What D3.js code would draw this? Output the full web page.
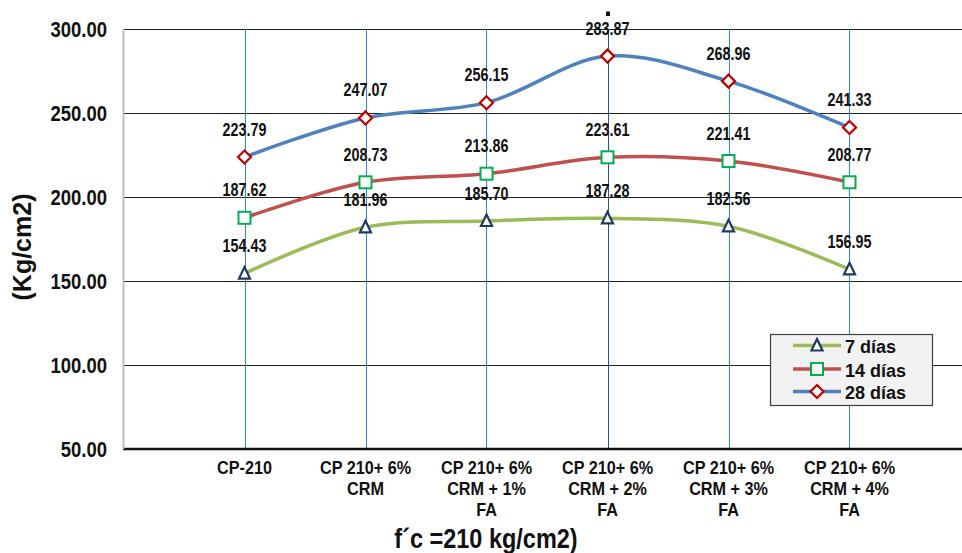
<!DOCTYPE html>
<html><head><meta charset="utf-8">
<script src="https://cdn.jsdelivr.net/npm/d3@7"></script>
<style>body{margin:0;background:#fff}svg{display:block}</style>
</head><body>
<svg id="c" width="962" height="553"></svg>
<script>
const categories = [
  ["CP-210"],
  ["CP 210+ 6%", "CRM"],
  ["CP 210+ 6%", "CRM + 1%", "FA"],
  ["CP 210+ 6%", "CRM + 2%", "FA"],
  ["CP 210+ 6%", "CRM + 3%", "FA"],
  ["CP 210+ 6%", "CRM + 4%", "FA"]
];
const dias7 = [154.43, 181.96, 185.70, 187.28, 182.56, 156.95];
const dias14 = [187.62, 208.73, 213.86, 223.61, 221.41, 208.77];
const dias28 = [223.79, 247.07, 256.15, 283.87, 268.96, 241.33];
const seriesNames = ["7 días", "14 días", "28 días"];
const yTicks = [50, 100, 150, 200, 250, 300];

const svg = d3.select("#c");
const font = "'Liberation Sans',Arial,sans-serif";
const ink = "#111";
const x = d3.scaleLinear().domain([0, 7]).range([123.5, 970.5]);
const y = d3.scaleLinear().domain([50, 300]).range([449, 29]);
const px = v => Math.round(v) + 0.5;

function ctext(g, tx, ty, str, size, sx, anchor) {
  return g.append("text")
    .attr("transform", `translate(${tx},${ty}) scale(${sx},1)`)
    .attr("text-anchor", anchor || "middle")
    .attr("font-family", font).attr("font-weight", "bold")
    .attr("font-size", size).attr("fill", ink).text(str);
}

// horizontal gridlines
svg.append("g").selectAll("line").data(yTicks.filter(d => d !== 50)).join("line")
  .attr("x1", 124).attr("x2", 962)
  .attr("y1", d => px(y(d))).attr("y2", d => px(y(d)))
  .attr("stroke", "#222").attr("stroke-width", 1);

// vertical gridlines
svg.append("g").selectAll("line").data(categories).join("line")
  .attr("x1", (d, i) => px(x(i + 1))).attr("x2", (d, i) => px(x(i + 1)))
  .attr("y1", y(300)).attr("y2", y(50))
  .attr("stroke", (d, i) => i === 3 ? "#2f4f8f" : "#2f86d4").attr("stroke-width", 1);

// bottom axis
svg.append("line").attr("x1", 123).attr("x2", 962).attr("y1", y(50)).attr("y2", y(50))
  .attr("stroke", "#111").attr("stroke-width", 2.5);

// left axis line
svg.append("line").attr("x1", 123.5).attr("x2", 123.5).attr("y1", y(300)).attr("y2", y(50))
  .attr("stroke", "#bdbdbd").attr("stroke-width", 2);

// y tick labels
const yt = svg.append("g");
yTicks.forEach(d => ctext(yt, 107, y(d) + 7.5, d.toFixed(2), 21.5, 0.86, "end"));

// y axis title
svg.append("text").attr("transform", "translate(31,247) rotate(-90)")
  .attr("text-anchor", "middle").attr("font-family", font)
  .attr("font-weight", "bold").attr("font-size", 25).attr("fill", ink)
  .text("(Kg/cm2)");

// category labels
const cg = svg.append("g");
categories.forEach((lines, i) => {
  lines.forEach((t, j) => ctext(cg, x(i + 1), 474 + j * 21, t, 18, 0.9));
});

// x axis title
ctext(svg, 486, 548, "f´c =210 kg/cm2)", 27, 0.87);

// small mark at top
svg.append("rect").attr("x", x(4) - 1.5).attr("y", 11.5).attr("width", 4).attr("height", 4.5).attr("fill", ink);

const series = [
  { name: seriesNames[0], values: dias7, line: "#9bbb59", mk: "#1f3864", shape: "tri" },
  { name: seriesNames[1], values: dias14, line: "#c0504d", mk: "#00b050", shape: "sq" },
  { name: seriesNames[2], values: dias28, line: "#4f81bd", mk: "#c00000", shape: "dia" }
];

const lineGen = d3.line().x((d, i) => x(i + 1)).y(d => y(d)).curve(d3.curveCatmullRom.alpha(0.5));

function marker(g, shape, color, cx, cy) {
  if (shape === "tri") {
    g.append("path").attr("d", `M${cx},${cy - 6.5}L${cx + 5.5},${cy + 5}L${cx - 5.5},${cy + 5}Z`)
      .attr("fill", "#fff").attr("stroke", color).attr("stroke-width", 2.2);
  } else if (shape === "sq") {
    g.append("rect").attr("x", cx - 6).attr("y", cy - 6).attr("width", 12).attr("height", 12)
      .attr("fill", "#fff").attr("stroke", color).attr("stroke-width", 2);
  } else {
    g.append("path").attr("d", `M${cx},${cy - 6.5}L${cx + 6.5},${cy}L${cx},${cy + 6.5}L${cx - 6.5},${cy}Z`)
      .attr("fill", "#fff").attr("stroke", color).attr("stroke-width", 2.2);
  }
}

series.forEach(s => {
  svg.append("path").attr("d", lineGen(s.values)).attr("fill", "none")
    .attr("stroke", s.line).attr("stroke-width", 3.5);
});
series.forEach(s => {
  const g = svg.append("g");
  s.values.forEach((v, i) => marker(g, s.shape, s.mk, x(i + 1), y(v)));
  const lg = svg.append("g");
  s.values.forEach((v, i) => ctext(lg, x(i + 1), y(v) - 21.5, v.toFixed(2), 17.5, 0.82));
});

// legend
const lg = svg.append("g");
lg.append("rect").attr("x", 770.5).attr("y", 334.5).attr("width", 162).attr("height", 71)
  .attr("fill", "#f2f2f2").attr("stroke", "#404040").attr("stroke-width", 1.2);
const legY = [345.5, 369, 391.5];
series.forEach((s, i) => {
  const cy = legY[i];
  lg.append("line").attr("x1", 793).attr("x2", 841).attr("y1", cy).attr("y2", cy)
    .attr("stroke", s.line).attr("stroke-width", 3.5);
  marker(lg, s.shape, s.mk, 817, cy);
  lg.append("text").attr("x", 845).attr("y", cy + 7.5)
    .attr("font-family", font).attr("font-weight", "bold")
    .attr("font-size", 18).attr("fill", ink).text(s.name);
});
</script>
</body></html>
